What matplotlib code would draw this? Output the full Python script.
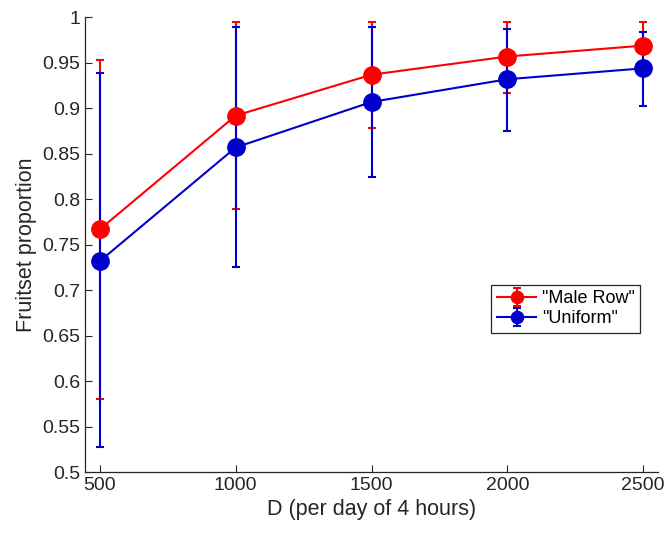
import matplotlib.pyplot as plt
import numpy as np

plt.rcParams['font.family'] = ['Liberation Sans', 'DejaVu Sans']

# data
D = [500, 1000, 1500, 2000, 2500]

male_row = [0.767, 0.892, 0.937, 0.957, 0.969]
male_row_lo = [0.580, 0.789, 0.878, 0.917, 0.943]
male_row_hi = [0.953, 0.995, 0.995, 0.995, 0.995]

uniform = [0.732, 0.857, 0.907, 0.932, 0.944]
uniform_lo = [0.528, 0.725, 0.824, 0.875, 0.903]
uniform_hi = [0.939, 0.989, 0.990, 0.987, 0.984]

fig = plt.figure(figsize=(6.68, 5.34), dpi=100)
ax = fig.add_axes([0.1272, 0.1161, 0.858, 0.8513])

def err(mid, lo, hi):
    mid = np.array(mid)
    return [mid - np.array(lo), np.array(hi) - mid]

ax.errorbar(D, male_row, yerr=err(male_row, male_row_lo, male_row_hi),
            color='#ff0000', marker='o', markersize=12.5, linewidth=1.5,
            elinewidth=1.5, capsize=3, capthick=1.5, label='"Male Row"')
ax.errorbar(D, uniform, yerr=err(uniform, uniform_lo, uniform_hi),
            color='#0000cc', marker='o', markersize=12.5, linewidth=1.5,
            elinewidth=1.5, capsize=3, capthick=1.5, label='"Uniform"')

ax.set_xlim(445, 2555)
ax.set_ylim(0.5, 1.0)
ax.set_xticks([500, 1000, 1500, 2000, 2500])
ax.set_yticks(np.arange(0.5, 1.001, 0.05))
ax.set_yticklabels(['0.5', '0.55', '0.6', '0.65', '0.7', '0.75', '0.8',
                    '0.85', '0.9', '0.95', '1'])

ax.spines['top'].set_visible(False)
ax.spines['right'].set_visible(False)
for s in ['left', 'bottom']:
    ax.spines[s].set_color('#262626')
    ax.spines[s].set_linewidth(0.9)
ax.tick_params(direction='in', length=5, labelsize=14, colors='#262626')

ax.set_xlabel('D (per day of 4 hours)', fontsize=15.5, color='#262626', labelpad=4)
ax.set_ylabel('Fruitset proportion', fontsize=15.5, color='#262626', labelpad=4)

leg = ax.legend(loc='upper right', bbox_to_anchor=(0.9686, 0.4113), fontsize=13,
                fancybox=False, edgecolor='#262626', framealpha=1,
                handlelength=2.2, borderpad=0.3, labelspacing=0.15,
                handletextpad=0.3, borderaxespad=0, markerscale=0.7)
leg.get_frame().set_linewidth(0.9)

fig.savefig('out.png', dpi=100)
